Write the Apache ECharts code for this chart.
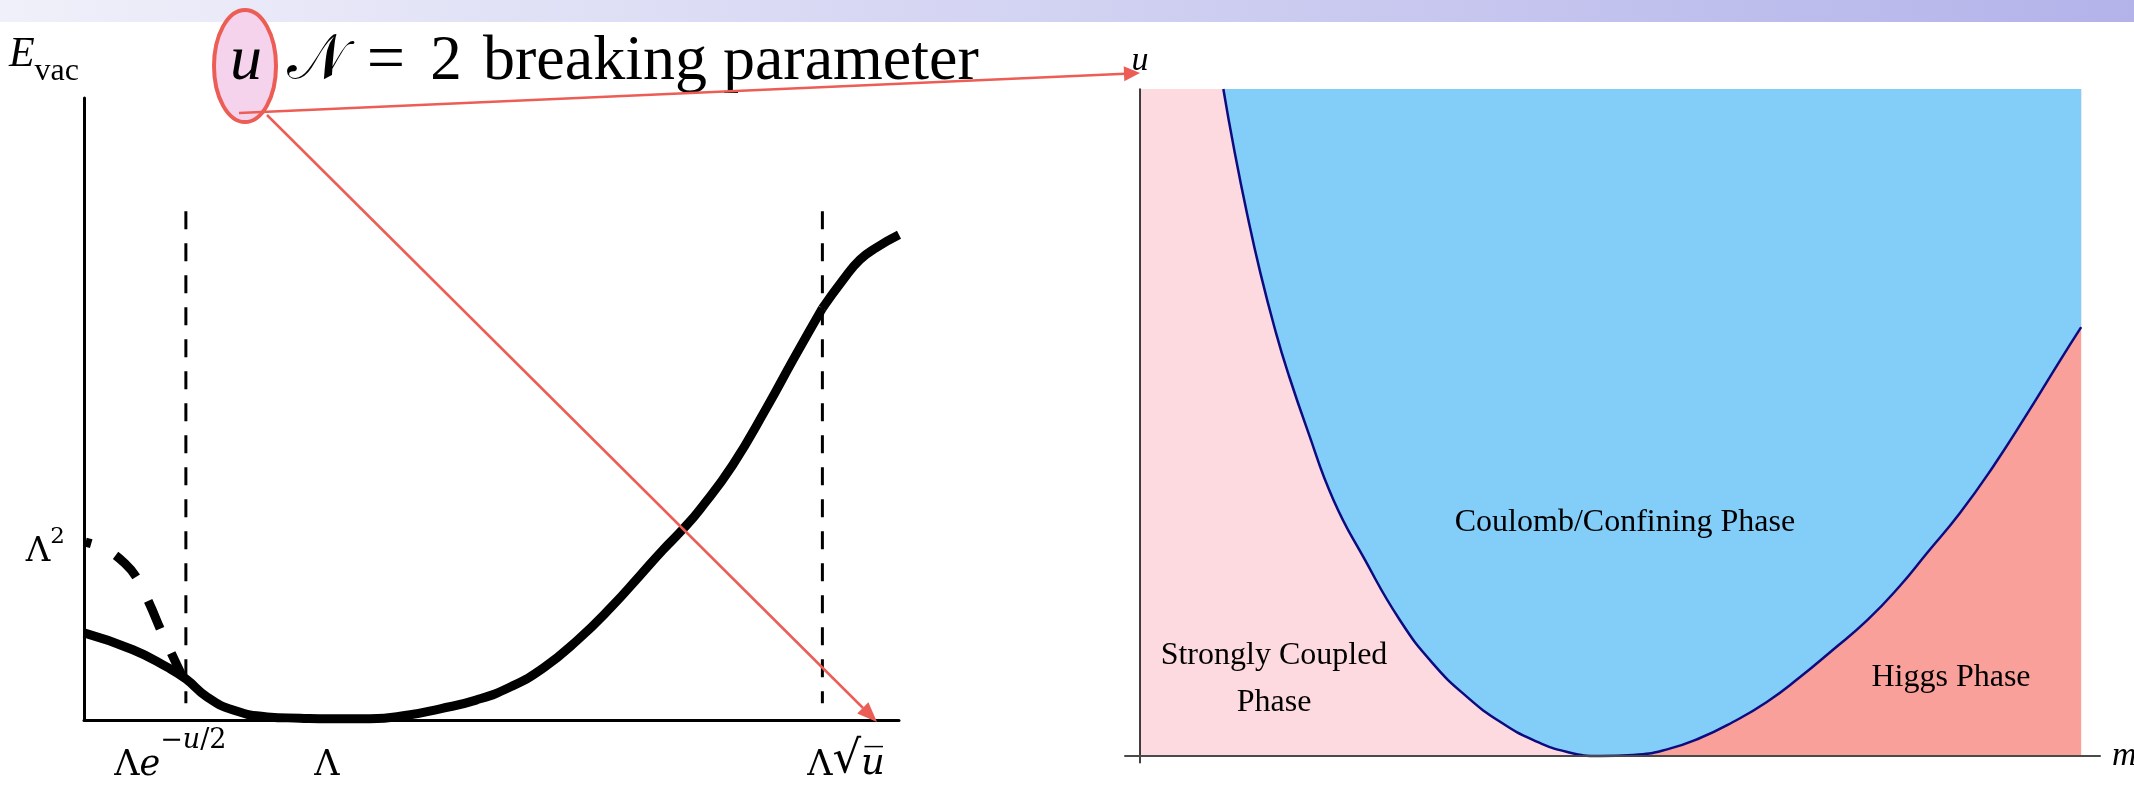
<!DOCTYPE html>
<html>
<head>
<meta charset="utf-8">
<script src="https://cdn.jsdelivr.net/npm/echarts@6/dist/echarts.min.js"></script>
<style>
  html, body { margin: 0; padding: 0; background: #ffffff; }
  #chart { width: 2134px; height: 789px; }
</style>
</head>
<body>
<div id="chart"></div>
<script>
// ---- Left panel: vacuum energy E_vac versus scale ----
const vacX = [0, 0.60, 1.02, 1.25, 1.51, 1.83, 2.25, 2.65, 3.02, 3.51, 3.98, 4.37, 4.81, 5.23, 5.64,
              6.06, 6.48, 6.82, 7.10, 7.35, 7.56, 7.96, 8.38, 8.70, 9.06, 9.31, 9.52, 9.73, 10.0];
const vacY = [1.40, 1.13, 0.85, 0.66, 0.37, 0.16, 0.05, 0.03, 0.02, 0.02, 0.08, 0.18, 0.32, 0.53, 0.84,
              1.29, 1.83, 2.32, 2.73, 3.07, 3.39, 4.10, 5.03, 5.79, 6.62, 7.07, 7.40, 7.60, 7.80];
const vacKinkX = 9.06;   // slope changes abruptly at Λ√u
// dashed branch rising towards Λ² at small scale
const dashX = [0.02, 0.26, 0.50, 0.65, 0.81, 0.93, 1.08, 1.20];
const dashY = [2.86, 2.75, 2.52, 2.28, 1.85, 1.48, 1.05, 0.72];
// vertical guide lines at Λe^{-u/2} and Λ√u
const guideX = [1.25, 9.06];
const guideTop = 8.18;
const guideBottom = 0.27;
// tick labels
const xTickValues = [1.06, 2.98, 9.35];
const xTickLabels = ['{L|Λ}{e|e}{s|−}{si|u}{s|/2}', '{L|Λ}', '{L|Λ}{r|√}{u|u\u0305}'];
const yTickValues = [2.78];
const yTickLabels = ['{L|Λ}{s|2}'];

// ---- Right panel: phase diagram in the (m, u) plane ----
const boundaryM = [0.885, 0.995, 1.137, 1.279, 1.445, 1.573, 1.778, 2.055, 2.39, 2.76, 3.11, 3.48, 3.83, 4.18,
                   4.54, 4.89, 5.24, 5.60, 5.95, 6.30, 6.66, 7.01, 7.36, 7.73, 8.08, 8.36, 8.71,
                   9.06, 9.43, 9.78, 10.0];
const boundaryU = [10.0, 9.13, 8.13, 7.24, 6.34, 5.74, 4.89, 3.84, 2.94, 2.04, 1.39, 0.88, 0.51, 0.24,
                   0.06, 0.0, 0.015, 0.10, 0.27, 0.51, 0.81, 1.18, 1.59, 2.04, 2.56, 3.04, 3.64,
                   4.33, 5.14, 5.94, 6.43];
const phaseNames = ['Coulomb/Confining Phase', 'Strongly Coupled\nPhase', 'Higgs Phase'];

const SERIF = '"Liberation Serif", "DejaVu Serif", serif';
const MATH = '"DejaVu Serif", "Liberation Serif", serif';
const RED = '#EC5D55';
const zip = (xs, ys) => xs.map((x, i) => [x, ys[i]]);
const iMin = boundaryU.indexOf(Math.min.apply(null, boundaryU));
const mSplit = boundaryM[iMin];
const uTop = 10;
const mRight = 10;
const vacPts = zip(vacX, vacY);
const iKink = vacX.indexOf(vacKinkX);

function nearestLabel(values, labels, v) {
  let best = 0;
  values.forEach((t, i) => { if (Math.abs(t - v) < Math.abs(values[best] - v)) best = i; });
  return labels[best];
}

const mathRich = {
  L: { fontFamily: MATH, fontSize: 35, lineHeight: 56, verticalAlign: 'bottom', color: '#000' },
  e: { fontFamily: MATH, fontSize: 35, fontStyle: 'italic', lineHeight: 56, verticalAlign: 'bottom', color: '#000' },
  u: { fontFamily: MATH, fontSize: 37, fontStyle: 'italic', lineHeight: 56, verticalAlign: 'bottom', color: '#000' },
  r: { fontFamily: MATH, fontSize: 45, lineHeight: 56, verticalAlign: 'bottom', color: '#000' },
  s: { fontFamily: MATH, fontSize: 27, lineHeight: 14, verticalAlign: 'top', color: '#000' },
  si: { fontFamily: MATH, fontSize: 27, fontStyle: 'italic', lineHeight: 14, verticalAlign: 'top', color: '#000' }
};

const vacLine = { color: '#000', width: 9, cap: 'butt', join: 'round' };

const chart = echarts.init(document.getElementById('chart'), null, { renderer: 'canvas' });

const option = {
  animation: false,
  backgroundColor: '#ffffff',
  grid: [
    { left: 84, top: 98, width: 815, height: 622, outerBoundsMode: 'none' },
    { left: 1125, top: 89, width: 975, height: 673.7, outerBoundsMode: 'none' }
  ],
  xAxis: [
    {
      gridIndex: 0, type: 'value', min: 0, max: 10,
      axisLine: { lineStyle: { color: '#000', width: 3 } },
      axisTick: { show: false }, splitLine: { show: false },
      axisLabel: {
        customValues: xTickValues, margin: 7,
        formatter: v => nearestLabel(xTickValues, xTickLabels, v),
        rich: mathRich
      }
    },
    {
      gridIndex: 1, type: 'value', min: -0.16, max: 10.2, z: 10,
      axisLine: { onZero: true, lineStyle: { color: '#4a4a4a', width: 2 } },
      axisTick: { show: false }, splitLine: { show: false }, axisLabel: { show: false },
      name: 'm', nameLocation: 'end', nameGap: 12, nameMoveOverlap: false,
      nameTextStyle: { fontFamily: SERIF, fontStyle: 'italic', fontSize: 34, color: '#000' }
    }
  ],
  yAxis: [
    {
      gridIndex: 0, type: 'value', min: 0, max: 10,
      axisLine: { lineStyle: { color: '#000', width: 3 } },
      axisTick: { show: false }, splitLine: { show: false },
      axisLabel: {
        customValues: yTickValues, margin: 19,
        formatter: v => nearestLabel(yTickValues, yTickLabels, v),
        rich: {
          L: { fontFamily: MATH, fontSize: 34, lineHeight: 44, verticalAlign: 'bottom', color: '#000' },
          s: { fontFamily: MATH, fontSize: 23, lineHeight: 22, verticalAlign: 'top', color: '#000' }
        }
      },
      name: '{E|E}{v|vac}', nameLocation: 'end', nameGap: 64, nameMoveOverlap: false,
      nameTextStyle: {
        align: 'right', verticalAlign: 'top', padding: [0, 5, 0, 0],
        rich: {
          E: { fontFamily: SERIF, fontSize: 42, fontStyle: 'italic', lineHeight: 40, verticalAlign: 'top', color: '#000' },
          v: { fontFamily: SERIF, fontSize: 32, lineHeight: 54, verticalAlign: 'bottom', color: '#000' }
        }
      }
    },
    {
      gridIndex: 1, type: 'value', min: -0.1, max: uTop, z: 10,
      axisLine: { onZero: true, lineStyle: { color: '#000', width: 1.5 } },
      axisTick: { show: false }, splitLine: { show: false }, axisLabel: { show: false },
      name: 'u', nameLocation: 'end', nameGap: 11, nameMoveOverlap: false,
      nameTextStyle: { fontFamily: SERIF, fontStyle: 'italic', fontSize: 34, color: '#000' }
    }
  ],
  series: [
    {
      name: 'E_vac', type: 'line', xAxisIndex: 0, yAxisIndex: 0,
      data: vacPts.slice(0, iKink + 1), showSymbol: false, smooth: 0.5, z: 3,
      lineStyle: vacLine
    },
    {
      name: 'E_vac', type: 'line', xAxisIndex: 0, yAxisIndex: 0,
      data: vacPts.slice(iKink), showSymbol: false, smooth: 0.5, z: 3,
      lineStyle: vacLine
    },
    {
      name: 'E_vac (strong coupling)', type: 'line', xAxisIndex: 0, yAxisIndex: 0,
      data: zip(dashX, dashY), showSymbol: false, smooth: 0.4, z: 3,
      lineStyle: { color: '#000', width: 9, type: [30, 27], dashOffset: 24, cap: 'butt' }
    },
    ...guideX.map(x => ({
      type: 'line', xAxisIndex: 0, yAxisIndex: 0, showSymbol: false, z: 2,
      data: [[x, guideTop], [x, guideBottom]],
      lineStyle: { color: '#000', width: 3, type: [18, 14] }
    })),
    {
      name: 'Strongly Coupled', type: 'line', xAxisIndex: 1, yAxisIndex: 1, showSymbol: false, z: 1,
      data: [[0, uTop], [mSplit, uTop]],
      lineStyle: { opacity: 0 }, areaStyle: { color: '#FDD9E0', opacity: 1 }
    },
    {
      name: 'Higgs', type: 'line', xAxisIndex: 1, yAxisIndex: 1, showSymbol: false, z: 1,
      data: [[mSplit, uTop], [mRight, uTop]],
      lineStyle: { opacity: 0 }, areaStyle: { color: '#F9A09B', opacity: 1 }
    },
    {
      name: 'Coulomb/Confining', type: 'line', xAxisIndex: 1, yAxisIndex: 1, showSymbol: false, z: 3,
      data: zip(boundaryM, boundaryU), smooth: 0.5,
      lineStyle: { color: '#0C0C80', width: 2.5 },
      areaStyle: { origin: 'end', color: '#83CDF9', opacity: 1 }
    }
  ],
  graphic: [
    {
      type: 'rect', z: 100, shape: { x: 0, y: 0, width: 2134, height: 22 },
      style: {
        fill: { type: 'linear', x: 0, y: 0, x2: 1, y2: 0,
                colorStops: [{ offset: 0, color: '#F0F0FA' }, { offset: 1, color: '#B3B3EA' }] }
      }
    },
    {
      type: 'ellipse', z: 100, shape: { cx: 245, cy: 66, rx: 31, ry: 56 },
      style: { fill: '#F6D3EC', stroke: RED, lineWidth: 4 }
    },
    {
      type: 'text', z: 101, x: 246, y: 62,
      style: { text: 'u', font: 'italic 64px ' + SERIF, fill: '#000', align: 'center', verticalAlign: 'middle' }
    },
    {
      type: 'text', z: 101, x: 287, y: 62,
      style: { text: '𝒩', font: '62px ' + SERIF, fill: '#000', align: 'left', verticalAlign: 'middle' }
    },
    {
      type: 'text', z: 101, x: 386, y: 62,
      style: { text: '=', font: '68px ' + SERIF, fill: '#000', align: 'center', verticalAlign: 'middle' }
    },
    {
      type: 'text', z: 101, x: 446, y: 62,
      style: { text: '2', font: '63px ' + SERIF, fill: '#000', align: 'center', verticalAlign: 'middle' }
    },
    {
      type: 'text', z: 101, x: 483, y: 62,
      style: { text: 'breaking parameter', font: '64px ' + SERIF, fill: '#000', align: 'left', verticalAlign: 'middle' }
    },
    // pointer to the u axis
    { type: 'line', z: 102, shape: { x1: 239, y1: 113, x2: 1125, y2: 73.7 }, style: { stroke: RED, lineWidth: 2.5 } },
    { type: 'polygon', z: 102, shape: { points: [[1140, 73], [1124.3, 81.2], [1123.7, 66.2]] }, style: { fill: RED } },
    // pointer to Λ√u
    { type: 'line', z: 102, shape: { x1: 267, y1: 115, x2: 863, y2: 708 }, style: { stroke: RED, lineWidth: 2.5 } },
    { type: 'polygon', z: 102, shape: { points: [[877, 722], [857.2, 713.6], [868.4, 702.2]] }, style: { fill: RED } },
    {
      type: 'text', z: 101, x: 1625, y: 523,
      style: { text: phaseNames[0], font: '32px ' + SERIF, fill: '#000', align: 'center', verticalAlign: 'middle' }
    },
    {
      type: 'text', z: 101, x: 1274, y: 679,
      style: { text: phaseNames[1], font: '32px ' + SERIF, lineHeight: 47, fill: '#000', align: 'center', verticalAlign: 'middle' }
    },
    {
      type: 'text', z: 101, x: 1951, y: 678,
      style: { text: phaseNames[2], font: '32px ' + SERIF, fill: '#000', align: 'center', verticalAlign: 'middle' }
    }
  ]
};

chart.setOption(option);
</script>
</body>
</html>
